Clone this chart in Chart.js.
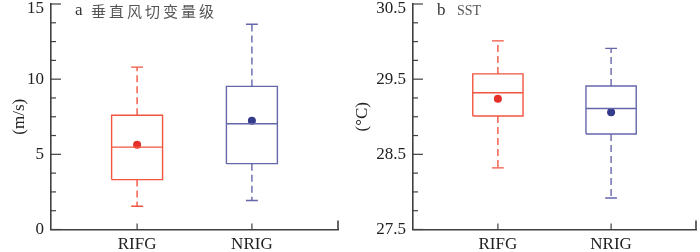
<!DOCTYPE html>
<html>
<head>
<meta charset="utf-8">
<script src="https://cdn.jsdelivr.net/npm/chart.js@4.4.1/dist/chart.umd.min.js"></script>
<style>
  html, body { margin: 0; padding: 0; background: #fff; }
  #wrap { position: relative; width: 700px; height: 252px; }
  canvas { position: absolute; top: 0; }
  #chartA { left: 0; }
  #chartB { left: 350px; }
</style>
</head>
<body>
<div id="wrap">
  <canvas id="chartA" width="350" height="252"></canvas>
  <canvas id="chartB" width="350" height="252"></canvas>
</div>
<script>
// =============================
// DATA
// =============================
const groups = ["RIFG", "NRIG"];

// a: vertical wind shear (m/s)
const shearMin    = [1.55, 1.93];
const shearQ1     = [3.32, 4.38];
const shearMedian = [5.48, 7.03];
const shearQ3     = [7.60, 9.52];
const shearMax    = [10.80, 13.65];
const shearMean   = [5.64, 7.23];
const shearTicks  = [0, 5, 10, 15];

// b: SST (°C)
const sstMin    = [28.32, 27.92];
const sstQ1     = [29.01, 28.77];
const sstMedian = [29.32, 29.11];
const sstQ3     = [29.57, 29.41];
const sstMax    = [30.01, 29.91];
const sstMean   = [29.24, 29.06];
const sstTicks  = [27.5, 28.5, 29.5, 30.5];

// =============================
// STYLE
// =============================
const lineColors = ["#f2553f", "#6466aa"];
const dotColors  = ["#e5302a", "#343c8c"];
const axisColor  = "#404040";
const serif = "'Liberation Serif', 'Times New Roman', serif";
const BOX_HALF = 0.222;
const CAP_HALF = 0.052;

function boxDatasets(min, q1, med, q3, max, mean) {
  const sets = [];
  groups.forEach((g, i) => {
    const c = lineColors[i];
    const base = { showLine: true, pointRadius: 0, borderColor: c, borderWidth: 1.4, spanGaps: false };
    sets.push({ ...base, data: [
      { x: i - BOX_HALF, y: q1[i] }, { x: i + BOX_HALF, y: q1[i] },
      { x: i + BOX_HALF, y: q3[i] }, { x: i - BOX_HALF, y: q3[i] },
      { x: i - BOX_HALF, y: q1[i] }
    ] });
    sets.push({ ...base, data: [{ x: i - BOX_HALF, y: med[i] }, { x: i + BOX_HALF, y: med[i] }] });
    sets.push({ ...base, borderDash: [7, 4], data: [
      { x: i, y: q3[i] }, { x: i, y: max[i] }, { x: i, y: null },
      { x: i, y: q1[i] }, { x: i, y: min[i] }
    ] });
    sets.push({ ...base, data: [
      { x: i - CAP_HALF, y: max[i] }, { x: i + CAP_HALF, y: max[i] }, { x: i, y: null },
      { x: i - CAP_HALF, y: min[i] }, { x: i + CAP_HALF, y: min[i] }
    ] });
    sets.push({ data: [{ x: i, y: mean[i] }], pointRadius: 4, pointBackgroundColor: dotColors[i],
      pointBorderWidth: 0, showLine: false });
  });
  return sets;
}

// inward ticks, y labels and panel label
function axisPlugin(majors, minorStep, tag, subtitle, subFont, subX) {
  return {
    id: "axisDecor",
    afterDraw(chart) {
      const ctx = chart.ctx;
      const { left, right, bottom } = chart.chartArea;
      const ys = chart.scales.y, xs = chart.scales.x;
      ctx.save();
      ctx.strokeStyle = axisColor;
      ctx.lineWidth = 1.2;
      // y ticks
      for (let v = ys.min; v <= ys.max + 1e-9; v += minorStep) {
        const py = ys.getPixelForValue(v);
        const isMajor = majors.some(m => Math.abs(m - v) < 1e-6);
        ctx.beginPath();
        ctx.moveTo(left, py);
        ctx.lineTo(left + (isMajor ? 10 : 5), py);
        ctx.stroke();
      }
      // x ticks
      groups.forEach((g, i) => {
        const px = xs.getPixelForValue(i);
        ctx.beginPath(); ctx.moveTo(px, bottom); ctx.lineTo(px, bottom - 6); ctx.stroke();
      });
      ctx.lineWidth = 1.6;
      ctx.beginPath(); ctx.moveTo(right, bottom); ctx.lineTo(right, bottom - 9); ctx.stroke();
      // y labels
      ctx.fillStyle = "#222";
      ctx.font = "17px " + serif;
      ctx.textAlign = "right";
      ctx.textBaseline = "middle";
      majors.forEach(m => {
        const py = Math.min(Math.max(ys.getPixelForValue(m), 9), 252 - 9);
        ctx.fillText(String(m), left - 7, py);
      });
      // panel label
      ctx.textAlign = "left";
      ctx.fillStyle = "#333";
      ctx.font = "17px " + serif;
      ctx.fillText(tag, left + 24, 11);
      ctx.fillStyle = "#555";
      ctx.font = subFont;
      if (subFont.indexOf("CJK") >= 0) ctx.letterSpacing = "3px";
      ctx.fillText(subtitle, left + subX, 11);
      ctx.restore();
    }
  };
}

function makeChart(id, sets, yMin, yMax, yTitle, yWidth, titlePad, rightPad, plugin) {
  return new Chart(document.getElementById(id), {
    type: "scatter",
    data: { datasets: sets },
    options: {
      responsive: false,
      animation: false,
      layout: { padding: { top: 2.5, right: rightPad, left: 0, bottom: 0 } },
      plugins: { legend: { display: false }, tooltip: { enabled: false } },
      scales: {
        x: {
          type: "linear", min: -0.75, max: 1.75,
          afterBuildTicks: s => { s.ticks = groups.map((g, i) => ({ value: i })); },
          afterFit: s => { s.height = 22.5; },
          grid: { display: false, drawTicks: false },
          border: { display: true, color: axisColor, width: 1.6 },
          ticks: { color: "#222", font: { family: serif, size: 17 }, padding: 5,
                   callback: v => groups[v] },
        },
        y: {
          type: "linear", min: yMin, max: yMax,
          afterFit: s => { s.width = yWidth; },
          grid: { display: false, drawTicks: false },
          border: { display: true, color: axisColor, width: 1.6 },
          ticks: { display: false },
          title: { display: true, text: yTitle, color: "#222",
                   font: { family: serif, size: 17 }, padding: { top: titlePad, bottom: 0 } }
        }
      }
    },
    plugins: [plugin]
  });
}

makeChart("chartA", boxDatasets(shearMin, shearQ1, shearMedian, shearQ3, shearMax, shearMean),
  0, 15, "(m/s)", 51, 9, 12,
  axisPlugin(shearTicks, 1.25, "a", "垂直风切变量级", "15px 'Noto Sans CJK SC'", 40));

makeChart("chartB", boxDatasets(sstMin, sstQ1, sstMedian, sstQ3, sstMax, sstMean),
  27.5, 30.5, "(°C)", 63, 2, 1.7,
  axisPlugin(sstTicks, 0.25, "b", "SST", "14px " + serif, 44));
</script>
</body>
</html>
